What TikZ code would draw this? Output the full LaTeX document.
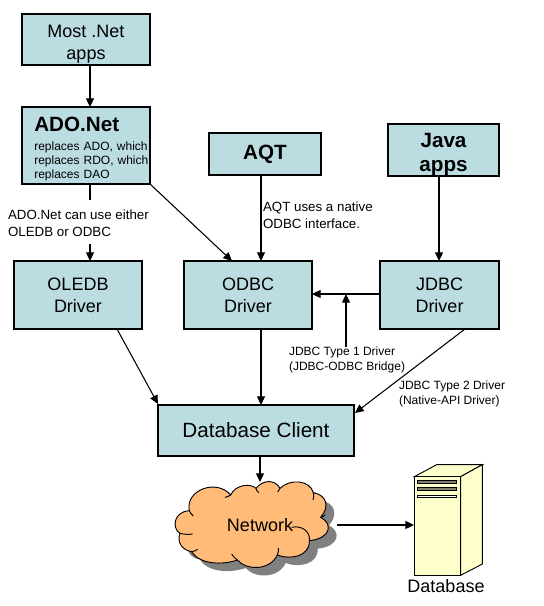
\documentclass[tikz,border=0pt]{standalone}
\usepackage{fontspec}
\setmainfont{Liberation Sans}
\usetikzlibrary{arrows.meta}
\definecolor{boxfill}{HTML}{BBDDE2}
\definecolor{cloudfill}{HTML}{FFBB77}
\definecolor{cloudshadow}{HTML}{808080}
\definecolor{serverfill}{HTML}{FFFFCC}
\definecolor{stripe}{HTML}{808066}
\newcommand{\cloudoutline}{(118,362)
 .. controls (105,300) and (200,265) .. (242,315)
 .. controls (255,285) and (300,278) .. (318,295)
 .. controls (340,268) and (375,268) .. (390,295)
 .. controls (420,265) and (480,270) .. (490,308)
 .. controls (530,315) and (540,350) .. (512,382)
 .. controls (548,400) and (545,445) .. (478,452)
 .. controls (480,500) and (420,510) .. (382,495)
 .. controls (360,542) and (290,542) .. (262,510)
 .. controls (220,525) and (150,525) .. (125,485)
 .. controls (95,480) and (80,455) .. (90,430)
 .. controls (65,415) and (70,365) .. (118,362) -- cycle}
\tikzset{
  x=.75pt,y=-.75pt,
  boxnode/.style={draw=black,line width=.8pt,fill=boxfill,inner sep=0pt,outer sep=0pt,align=center},
  big/.style={font=\fontsize{13.5}{16.5}\selectfont},
  bigbold/.style={font=\fontsize{15.5}{18}\selectfont\bfseries},
  small/.style={font=\fontsize{9}{10.5}\selectfont},
  note/.style={inner sep=0pt,outer sep=0pt,align=left,anchor=west,font=\fontsize{9}{11.25}\selectfont},
  notewide/.style={inner sep=0pt,outer sep=0pt,align=left,anchor=west,font=\fontsize{10}{12.4}\selectfont},
  link/.style={draw=black,line width=.8pt,-{Triangle[width=6pt,length=6.5pt]}},
  plainlink/.style={draw=black,line width=.8pt},
  cloudline/.style={draw=black,line width=.7pt}
}
\begin{document}
\begin{tikzpicture}
\useasboundingbox (0,0) rectangle (543,606);
% axes for the connectors
\coordinate (xado) at (90,0);
\coordinate (yado) at (0,200);
\coordinate (yadolow) at (0,244);
\coordinate (xodbc) at (261,0);
\coordinate (xjava) at (439,0);
\coordinate (xbridge) at (346,0);
\coordinate (yjdbc) at (0,294);
% boxes
\node[boxnode,big,minimum width=96pt,minimum height=38.25pt] (most) at (86,39.5) {\rule{0pt}{16.5pt}Most .Net\\apps};
\node[boxnode,small,minimum width=96pt,minimum height=57.75pt,text width=96pt,align=left] (ado) at (86,145.5)
  {\hspace*{9.2pt}\rule{0pt}{16pt}{\fontsize{15.5}{16}\selectfont\bfseries ADO.Net}\\[3.5pt]
   \hspace*{9.2pt}replaces ADO, which\\
   \hspace*{9.2pt}replaces RDO, which\\
   \hspace*{9.2pt}replaces DAO};
\node[boxnode,bigbold,minimum width=84pt,minimum height=31.5pt] (aqt) at (265,154) {AQT};
\node[boxnode,bigbold,minimum width=83.25pt,minimum height=39pt] (java) at (443.5,150) {\rule{0pt}{17pt}Java\\apps};
\node[boxnode,big,minimum width=96pt,minimum height=51pt] (oledb) at (78,295) {OLEDB\\Driver};
\node[boxnode,big,minimum width=96pt,minimum height=51pt] (odbc) at (248,295) {ODBC\\Driver};
\node[boxnode,big,minimum width=89.25pt,minimum height=51pt] (jdbc) at (439.5,295) {JDBC\\Driver};
\node[boxnode,font=\fontsize{15.5}{18}\selectfont,minimum width=147pt,minimum height=38.25pt] (client) at (256,430.5) {Database Client};
% labels
\node[notewide] (adonote) at (8,223) {ADO.Net can use either\\OLEDB or ODBC};
\node[notewide] (aqtnote) at (263,215.5) {AQT uses a native\\ODBC interface.};
\node[note] (type1) at (289,360) {JDBC Type 1 Driver\\(JDBC-ODBC Bridge)};
\node[note] (type2) at (399,393.5) {JDBC Type 2 Driver\\(Native-API Driver)};
% cloud
\begin{scope}[shift={(150,390)},x=.25pt,y=-.25pt]
  \fill[cloudshadow,shift={(25,24)}] \cloudoutline;
  \path[cloudline,fill=cloudfill] \cloudoutline;
  \draw[cloudline] (90,430) .. controls (102,433) and (115,434) .. (128,432);
  \draw[cloudline] (118,362) .. controls (120,368) and (125,374) .. (130,378);
  \draw[cloudline] (242,315) .. controls (238,318) and (232,320) .. (225,322);
  \draw[cloudline] (318,295) .. controls (318,300) and (322,305) .. (327,308);
  \draw[cloudline] (390,295) .. controls (386,298) and (384,302) .. (383,306);
  \draw[cloudline] (490,308) .. controls (492,315) and (492,322) .. (489,330);
  \draw[cloudline] (512,382) .. controls (518,380) and (522,378) .. (526,375);
  \draw[cloudline] (425,412) .. controls (455,405) and (482,425) .. (478,452);
  \draw[cloudline] (382,495) .. controls (385,488) and (386,480) .. (385,474);
  \draw[cloudline] (262,510) .. controls (255,505) and (248,498) .. (245,492);
  \draw[cloudline] (125,485) .. controls (132,484) and (138,482) .. (143,478);
\end{scope}
\node[big,inner sep=0pt] (network) at (260,525) {Network};
\coordinate (cloudtop) at (260,482);
\coordinate (cloudright) at (337,525);
% server
\begin{scope}[shift={(150,390)},x=.25pt,y=-.25pt]
  \path[draw=black,line width=.7pt,fill=serverfill] (793,260) -- (860,224) -- (997,224) -- (932,260) -- cycle;
  \path[draw=black,line width=.7pt,fill=serverfill] (932,260) -- (997,224) -- (997,522) -- (932,556) -- cycle;
  \path[draw=black,line width=.7pt,fill=serverfill] (793,260) rectangle (932,556);
  \path[draw=black,line width=.3pt,fill=stripe] (802,270) rectangle (920,280);
  \path[draw=black,line width=.3pt,fill=stripe] (802,291) rectangle (920,302);
  \path[draw=black,line width=.6pt,fill=white] (802,316) rectangle (920,323);
\end{scope}
\coordinate (serverin) at (414,525);
\node[big,inner sep=0pt] (dbname) at (446,586) {Database};
% connectors
\path[link] (most.south -| xado) -- (ado.north -| xado);
\path[plainlink] (ado.south -| xado) -- (xado |- yado);
\path[link] (xado |- yadolow) -- (oledb.north -| xado);
\path[link] (ado.south east) -- (232,261);
\path[link] (aqt.south -| xodbc) -- (odbc.north -| xodbc);
\path[link] (java.south -| xjava) -- (jdbc.north -| xjava);
\path[link] (jdbc.west |- yjdbc) -- (odbc.east |- yjdbc);
\path[link] (type1.north -| xbridge) -- (xbridge |- yjdbc);
\path[link] (117,329) -- (158,404);
\path[link] (odbc.south -| xodbc) -- (client.north -| xodbc);
\path[link] (465,329) -- (355,413);
\path[link] (client.south -| cloudtop) -- (cloudtop);
\path[link] (cloudright) -- (serverin);
\end{tikzpicture}
\end{document}
